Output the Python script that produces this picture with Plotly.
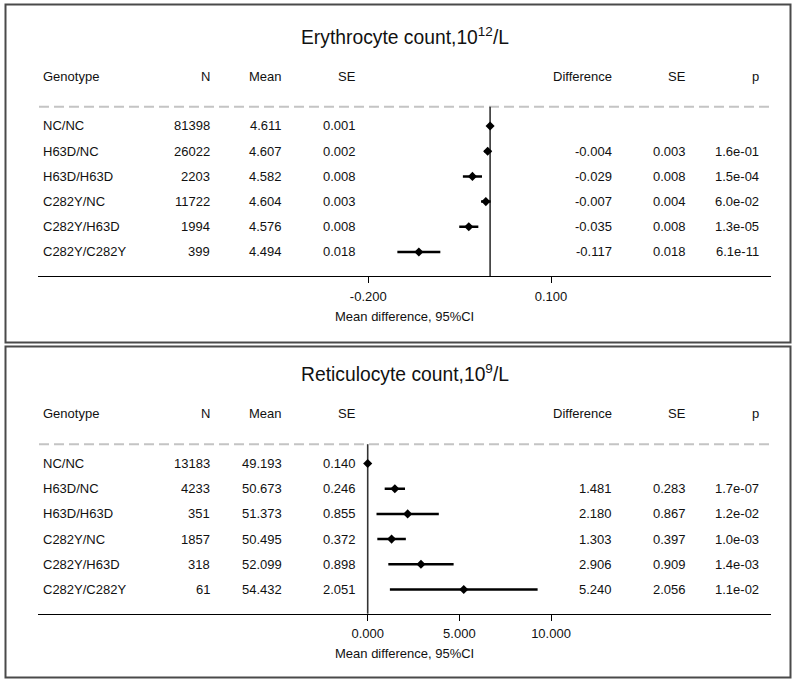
import plotly.graph_objects as go

W, H = 796, 684

# ---------------- data ----------------
genotypes = ["NC/NC", "H63D/NC", "H63D/H63D", "C282Y/NC", "C282Y/H63D", "C282Y/C282Y"]

ery_title = "Erythrocyte count,10<sup>12</sup>/L"
ery_n = [81398, 26022, 2203, 11722, 1994, 399]
ery_mean = [4.611, 4.607, 4.582, 4.604, 4.576, 4.494]
ery_se = [0.001, 0.002, 0.008, 0.003, 0.008, 0.018]
ery_diff = [0.0, -0.004, -0.029, -0.007, -0.035, -0.117]
ery_diff_se = [None, 0.003, 0.008, 0.004, 0.008, 0.018]
ery_p = [None, 1.6e-01, 1.5e-04, 6.0e-02, 1.3e-05, 6.1e-11]
ery_tickvals = [-0.2, 0.1]
ery_ticktext = ["-0.200", "0.100"]

ret_title = "Reticulocyte count,10<sup>9</sup>/L"
ret_n = [13183, 4233, 351, 1857, 318, 61]
ret_mean = [49.193, 50.673, 51.373, 50.495, 52.099, 54.432]
ret_se = [0.140, 0.246, 0.855, 0.372, 0.898, 2.051]
ret_diff = [0.0, 1.481, 2.180, 1.303, 2.906, 5.240]
ret_diff_se = [None, 0.283, 0.867, 0.397, 0.909, 2.056]
ret_p = [None, 1.7e-07, 1.2e-02, 1.0e-03, 1.4e-03, 1.1e-02]
ret_tickvals = [0, 5, 10]
ret_ticktext = ["0.000", "5.000", "10.000"]

headers = ["Genotype", "N", "Mean", "SE", "Difference", "SE", "p"]
axis_title = "Mean difference, 95%CI"

# ---------------- layout helpers ----------------
FONT = "Liberation Sans, Arial, Helvetica, sans-serif"
TXT = "#111111"
FS = 13

def px(x):
    return x / W

def py(y):
    return 1 - y / H

AX_L, AX_R = 38, 771
ROW_STEP = 25.2
ROW0_OFF = 19.3
DOM_H = 169.5
y_range = [-ROW0_OFF / ROW_STEP + DOM_H / ROW_STEP, -ROW0_OFF / ROW_STEP]

col_x = [41, 211.5, 284, 357.5, 614, 687.5, 761]
col_anchor = ["left", "right", "right", "right", "right", "right", "right"]

panels = [
    dict(title=ery_title, n=ery_n, mean=ery_mean, se=ery_se, diff=ery_diff,
         dse=ery_diff_se, p=ery_p, tv=ery_tickvals, tt=ery_ticktext,
         zero_px=490.1, ppu=609.0, off=0.0, box=(4.5, 342.5)),
    dict(title=ret_title, n=ret_n, mean=ret_mean, se=ret_se, diff=ret_diff,
         dse=ret_diff_se, p=ret_p, tv=ret_tickvals, tt=ret_ticktext,
         zero_px=367.7, ppu=18.33, off=337.5, box=(346.5, 677.5)),
]

fig = go.Figure()
shapes = []
annotations = []
layout_axes = {}

for k, P in enumerate(panels):
    xs = "x" if k == 0 else "x2"
    ys = "y" if k == 0 else "y2"
    xname = "xaxis" if k == 0 else "xaxis2"
    yname = "yaxis" if k == 0 else "yaxis2"
    off = P["off"]
    dom_top = 106.7 + off
    dom_bot = dom_top + DOM_H

    err = [1.96 * s if s is not None else 0 for s in P["dse"]]
    fig.add_trace(go.Scatter(
        x=P["diff"], y=list(range(len(genotypes))), xaxis=xs, yaxis=ys,
        mode="markers",
        marker=dict(symbol="diamond", size=7, color="black"),
        error_x=dict(type="data", array=err, visible=True, color="black",
                     thickness=2.5, width=0),
        hoverinfo="skip",
    ))

    layout_axes[xname] = dict(
        domain=[px(AX_L), px(AX_R)],
        range=[(AX_L - P["zero_px"]) / P["ppu"], (AX_R - P["zero_px"]) / P["ppu"]],
        anchor=ys, tickvals=P["tv"], ticktext=P["tt"],
        showline=True, linecolor="black", linewidth=1.3,
        ticks="outside", ticklen=6, tickwidth=1.3, tickcolor="black",
        ticklabelstandoff=2,
        showgrid=False, zeroline=False,
        tickfont=dict(family=FONT, size=FS, color=TXT),
        fixedrange=True,
    )
    layout_axes[yname] = dict(
        domain=[py(dom_bot), py(dom_top)], range=y_range,
        visible=False, anchor=xs, fixedrange=True,
    )

    # panel border
    shapes.append(dict(type="rect", xref="paper", yref="paper",
                       x0=px(5.5), x1=px(790.5), y0=py(P["box"][1]), y1=py(P["box"][0]),
                       line=dict(color="#4a4a4a", width=2), layer="below"))
    # dashed separator
    shapes.append(dict(type="line", xref="paper", yref="paper",
                       x0=px(39), x1=px(770), y0=py(dom_top), y1=py(dom_top),
                       line=dict(color="#c4c4c4", width=2, dash="10px,5px"), layer="below"))
    # zero line
    shapes.append(dict(type="line", xref=xs, yref=ys + " domain",
                       x0=0, x1=0, y0=0, y1=1,
                       line=dict(color="#333333", width=1.6), layer="below"))

    # title
    annotations.append(dict(xref="paper", yref="paper", x=px(405), y=py(35.5 + off),
                            text=P["title"], showarrow=False, xanchor="center", yanchor="middle",
                            font=dict(family=FONT, size=19.3, color=TXT)))
    # headers
    for j, h in enumerate(headers):
        annotations.append(dict(xref="paper", yref="paper", x=px(col_x[j]), y=py(76 + off),
                                text=h, showarrow=False, xanchor=col_anchor[j], yanchor="middle",
                                font=dict(family=FONT, size=FS, color=TXT)))
    # rows
    for i, g in enumerate(genotypes):
        cells = [g, str(P["n"][i]), f"{P['mean'][i]:.3f}", f"{P['se'][i]:.3f}",
                 "" if P["dse"][i] is None else f"{P['diff'][i]:.3f}",
                 "" if P["dse"][i] is None else f"{P['dse'][i]:.3f}",
                 "" if P["p"][i] is None else f"{P['p'][i]:.1e}"]
        for j, c in enumerate(cells):
            if not c:
                continue
            annotations.append(dict(xref="paper", yref=ys, x=px(col_x[j]), y=i,
                                    text=c, showarrow=False, xanchor=col_anchor[j],
                                    yanchor="middle",
                                    font=dict(family=FONT, size=FS, color=TXT)))
    # axis title
    annotations.append(dict(xref="paper", yref="paper", x=px(404.5), y=py(316 + off),
                            text=axis_title, showarrow=False, xanchor="center", yanchor="middle",
                            font=dict(family=FONT, size=FS, color=TXT)))

fig.update_layout(
    width=W, height=H, margin=dict(l=0, r=0, t=0, b=0, pad=0),
    paper_bgcolor="white", plot_bgcolor="white", showlegend=False,
    shapes=shapes, annotations=annotations, **layout_axes,
)

fig.write_html("out.html")
